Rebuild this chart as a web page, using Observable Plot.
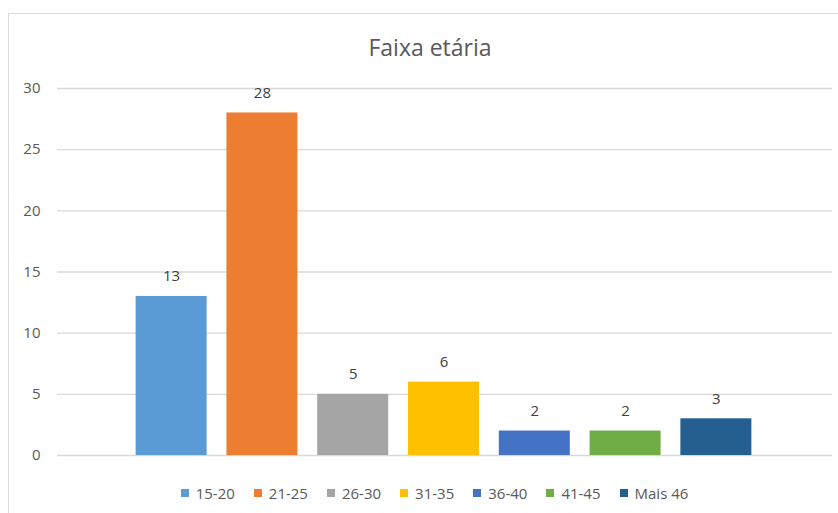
<!DOCTYPE html>
<html>
<head>
<meta charset="utf-8">
<script src="https://cdn.jsdelivr.net/npm/d3@7"></script>
<script src="https://cdn.jsdelivr.net/npm/@observablehq/plot@0.6"></script>
<style>
  html, body { margin: 0; padding: 0; background: #fff; overflow: hidden; }
  body { width: 838px; height: 513px; position: relative; font-family: "Open Sans", sans-serif; }
  #frame { position: absolute; left: 8px; top: 13px; width: 900px; height: 600px;
           border-left: 1px solid #d9d9d9; border-top: 1px solid #d9d9d9; }
  #title { position: absolute; left: 0; top: 32px; width: 860px; height: 30px; line-height: 30px;
           text-align: center; font-size: 23px; color: #595959; }
  #chart { position: absolute; left: 0; top: 80px; }
  #legend { position: absolute; left: 0; top: 480px; width: 869px; height: 26px; line-height: 26px;
            display: flex; justify-content: center; gap: 19px; font-size: 15px; color: #595959; }
  #legend .item { display: flex; align-items: center; gap: 7px; }
  #legend .sw { width: 8px; height: 8px; display: inline-block; }
</style>
</head>
<body>
<div id="frame"></div>
<div id="title">Faixa etária</div>
<div id="chart"></div>
<div id="legend"></div>
<script>
const categories = ["15-20", "21-25", "26-30", "31-35", "36-40", "41-45", "Mais 46"];
const counts = [13, 28, 5, 6, 2, 2, 3];
const colors = ["#5B9BD5", "#ED7D31", "#A5A5A5", "#FFC000", "#4472C4", "#70AD47", "#255E91"];
const yTicks = [0, 5, 10, 15, 20, 25, 30];

const data = categories.map((c, i) => ({category: c, count: counts[i]}));

const chart = Plot.plot({
  width: 838,
  height: 390,
  marginTop: 8,
  marginBottom: 15,
  marginLeft: 57,
  marginRight: 6,
  style: {fontFamily: "'Open Sans', sans-serif", fontSize: "15px", color: "#595959", overflow: "visible"},
  x: {domain: categories, paddingInner: 0.218, paddingOuter: 0.866, insetRight: 2, round: false, axis: null},
  y: {domain: [0, 30], label: null},
  color: {domain: categories, range: colors},
  marks: [
    Plot.gridY(yTicks, {stroke: "#d9d9d9", strokeOpacity: 1, strokeWidth: 1.3}),
    Plot.axisY(yTicks, {tickSize: 0, tickPadding: 17, label: null, fill: "#595959"}),
    Plot.barY(data, {x: "category", y: "count", fill: "category"}),
    Plot.text(data, {x: "category", y: "count", text: d => String(d.count), dy: -20, fill: "#404040", fontSize: 15})
  ]
});
document.getElementById("chart").appendChild(chart);

const legend = d3.select("#legend");
categories.forEach((c, i) => {
  const item = legend.append("div").attr("class", "item");
  item.append("span").attr("class", "sw").style("background", colors[i]);
  item.append("span").text(c);
});
</script>
</body>
</html>
